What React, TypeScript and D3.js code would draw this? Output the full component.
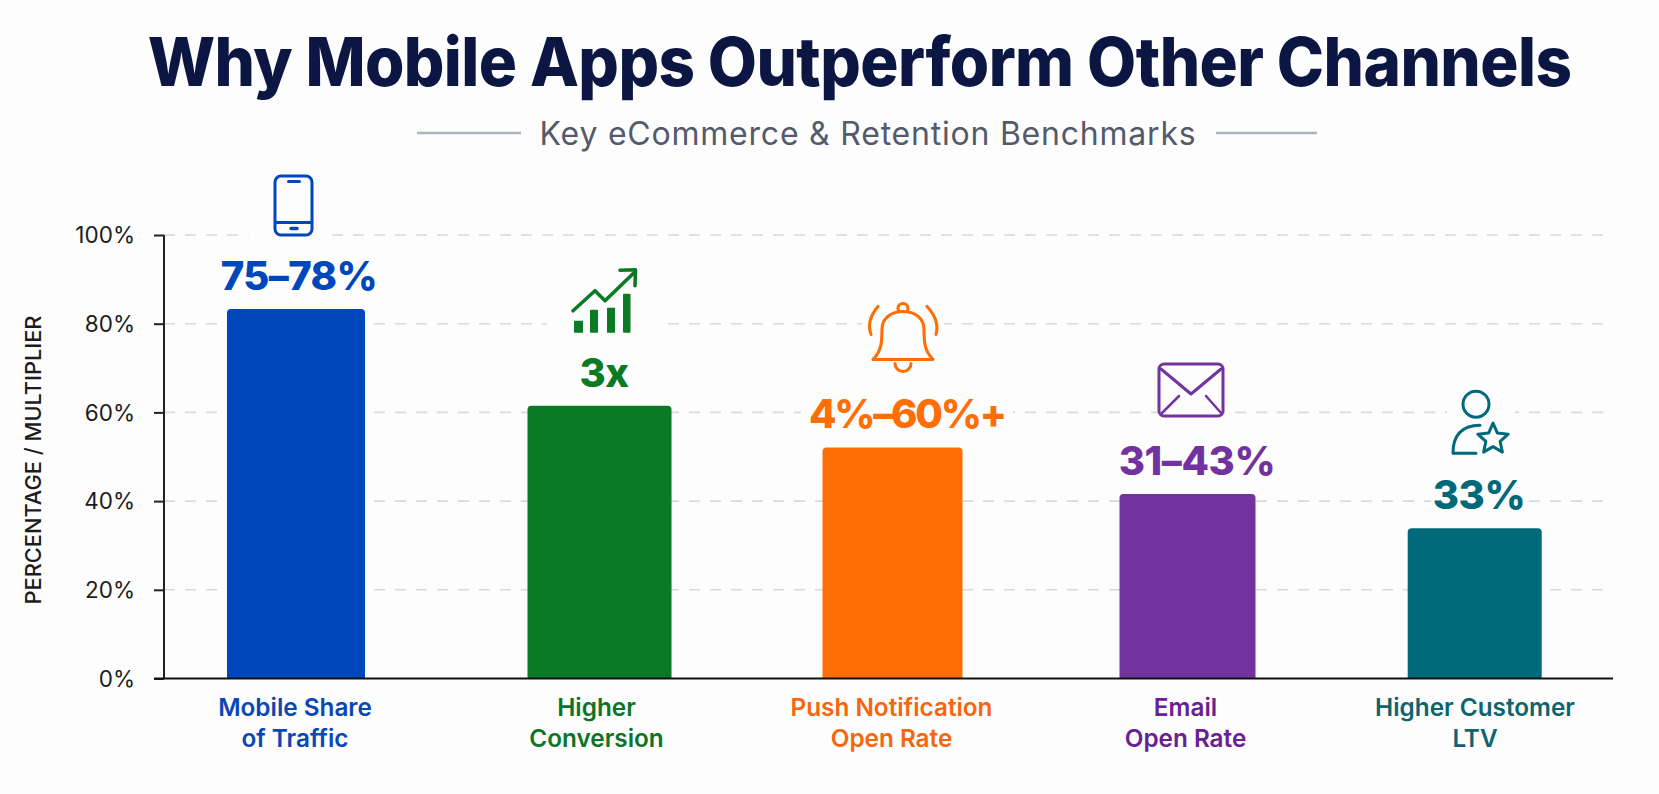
import React, { useEffect, useRef } from "react";
import * as d3 from "d3";

// ---- data ----
const categories = ["traffic", "conversion", "push", "email", "ltv"];
const categoryLines = [
  ["Mobile Share", "of Traffic"],
  ["Higher", "Conversion"],
  ["Push Notification", "Open Rate"],
  ["Email", "Open Rate"],
  ["Higher Customer", "LTV"],
];
const barValues = [83.3, 61.5, 52.1, 41.6, 33.9];
const valueLabels = ["75–78%", "3x", "4%–60%+", "31–43%", "33%"];
const colors = ["#0047bb", "#0a7a24", "#ff6d05", "#7232a0", "#00697a"];
const labelColors = ["#0a47b5", "#0b7425", "#f7650f", "#682093", "#0d6470"];
const yTicks = [0, 20, 40, 60, 80, 100];

// ---- layout ----
const W = 1659, H = 794, BG = "#fdfdfd";
const barCentres = [296, 599.5, 892.5, 1187.5, 1474.7];
const barWidths = [138, 144, 140, 136, 134];
const valueCentres = [299, 604, 907, 1197, 1479];
const valueSpacing = [-0.6, -0.4, -2.2, -0.4, -0.4];
const labelCentres = [295, 596.5, 891.5, 1185.5, 1475];
const iconCentres = [293.5, 604, 903, 1191, 1481];
const iconRise = [84.5, 86, 91, 85, 87];
const iconHalo = [[-45, -32, 82, 66], [-57, -36, 112, 72], [-41, -38, 82, 76], [-33, -28, 66, 56], [-34, -36, 68, 72]];
const valueHalfWidths = [82, 30, 106, 82, 48];

const y = d3.scaleLinear().domain([0, 100]).range([678.5, 235]);
const x = d3.scaleOrdinal<string, number>().domain(categories).range(barCentres);
const bw = d3.scaleOrdinal<string, number>().domain(categories).range(barWidths);

function barPath(cx: number, w: number, top: number, base: number) {
  const r = 4, p = d3.path();
  p.moveTo(cx - w / 2, base);
  p.lineTo(cx - w / 2, top + r);
  p.arcTo(cx - w / 2, top, cx - w / 2 + r, top, r);
  p.lineTo(cx + w / 2 - r, top);
  p.arcTo(cx + w / 2, top, cx + w / 2, top + r, r);
  p.lineTo(cx + w / 2, base);
  p.closePath();
  return p.toString();
}

const starPath = d3.lineRadial<number>()
  .angle((_, i) => (i * Math.PI) / 5)
  .radius((_, i) => (i % 2 ? 7.5 : 16))
  .curve(d3.curveLinearClosed)(d3.range(10)) as string;

function Icon({ i, color }: { i: number; color: string }) {
  const s = { fill: "none", stroke: color, strokeWidth: 3, strokeLinejoin: "round" as const, strokeLinecap: "round" as const };
  if (i === 0)
    return (
      <g {...s}>
        <rect x={-18.5} y={-29.5} width={37} height={59} rx={6} />
        <path d="M-18 17H18" />
        <path d="M-5 -24H6" />
        <path d="M-2.5 23H3.5" strokeWidth={3.5} />
      </g>
    );
  if (i === 1)
    return (
      <g {...s} strokeWidth={3.6}>
        <g fill={color} stroke="none">
          <rect x={-30} y={20} width={9} height={12} />
          <rect x={-14} y={9} width={8} height={23} rx={1} />
          <rect x={3} y={7} width={8} height={25} />
          <rect x={19} y={-7} width={7.5} height={39} rx={1} />
        </g>
        <path d="M-31 10L-9 -10L1 0L30 -28" />
        <path d="M16 -30.5L31.5 -31L31 -15" />
      </g>
    );
  if (i === 2)
    return (
      <g {...s} strokeWidth={3.1}>
        <circle cx={0} cy={-29} r={5} fill={BG} />
        <path d="M-30 22C-22 14 -21 6 -21 -8C-21 -20 -11 -26 0 -26C11 -26 21 -20 21 -8C21 6 22 14 30 22Z" fill={BG} />
        <path d="M-8 26A8 8 0 0 0 8 26" />
        <path d="M-25 -31Q-37 -17 -32 -3" />
        <path d="M24 -31Q37 -17 33 -3" />
      </g>
    );
  if (i === 3)
    return (
      <g {...s}>
        <rect x={-32} y={-26} width={64} height={52} rx={5} />
        <path d="M-30 -21L0 4L30 -21" />
        <path d="M-12 6L-30 24" strokeWidth={2.5} />
        <path d="M15 6L31 24" strokeWidth={2.5} />
      </g>
    );
  return (
    <g {...s}>
      <circle cx={-5} cy={-18} r={13} />
      <path d="M-5 31H-28C-28 14 -20 3 -1 3" />
      <path d={starPath} transform="translate(12,17)" fill={BG} />
    </g>
  );
}

export default function App() {
  const axisRef = useRef<SVGGElement>(null);
  useEffect(() => {
    const g = d3.select(axisRef.current!);
    g.call(
      d3.axisLeft(y).tickValues(yTicks).tickSize(10).tickPadding(19).tickFormat((d) => `${d}%`) as any
    );
    g.select(".domain").attr("stroke", "#222").attr("stroke-width", 2).attr("d", `M0,${y(100)}V${y(0)}`);
    g.selectAll(".tick line").attr("stroke", "#222").attr("stroke-width", 2);
    g.selectAll(".tick text")
      .attr("fill", "#1c1c1c")
      .attr("dy", "0.35em")
      .style("font-family", "Inter")
      .style("font-size", "22.5px")
      .style("font-weight", 400);
  }, []);

  const baseline = (i: number) => y(barValues[i]) - 19;

  return (
    <svg width={W} height={H} viewBox={`0 0 ${W} ${H}`} style={{ position: "absolute", left: 0, top: 0, display: "block" }} fontFamily="Inter">
      <rect width={W} height={H} fill={BG} />
      <text transform="translate(859.5,86) scale(0.937,1)" textAnchor="middle" fontSize={68} fontWeight={800} fill="#0b1742" letterSpacing={-0.6}>
        Why Mobile Apps Outperform Other Channels
      </text>
      <text x={868} y={145} textAnchor="middle" fontSize={32} fontWeight={400} fill="#535a6b" letterSpacing={0.78}>
        Key eCommerce &amp; Retention Benchmarks
      </text>
      <path d="M417 133H521M1216 133H1317" stroke="#aeb3be" strokeWidth={2.5} />

      {yTicks.filter((t) => t > 0).map((t) => (
        <line key={t} x1={164} x2={1613} y1={y(t)} y2={y(t)} stroke="#d9d9d9" strokeWidth={1.6} strokeDasharray="11 10" />
      ))}

      {categories.map((c, i) => {
        const [hx, hy, hw, hh] = iconHalo[i];
        const iy = baseline(i) - iconRise[i];
        return (
          <g key={c}>
            <rect x={iconCentres[i] + hx} y={iy + hy} width={hw} height={hh} fill={BG} />
            <rect x={valueCentres[i] - valueHalfWidths[i]} y={baseline(i) - 32} width={valueHalfWidths[i] * 2} height={36} fill={BG} />
            <path d={barPath(x(c), bw(c), y(barValues[i]), y(0))} fill={colors[i]} />
            <g transform={`translate(${iconCentres[i]},${iy})`}>
              <Icon i={i} color={colors[i]} />
            </g>
            <text x={valueCentres[i]} y={baseline(i)} textAnchor="middle" fontSize={40} fontWeight={800} fill={colors[i]} letterSpacing={valueSpacing[i]}>
              {valueLabels[i]}
            </text>
            {categoryLines[i].map((l, k) => (
              <text key={k} x={labelCentres[i]} y={716 + k * 31} textAnchor="middle" fontSize={24.3} fontWeight={600} fill={labelColors[i]}>
                {l}
              </text>
            ))}
          </g>
        );
      })}

      <g ref={axisRef} transform="translate(164,0)" />
      <line x1={154} x2={1613} y1={y(0)} y2={y(0)} stroke="#111" strokeWidth={2} />

      <text transform="translate(41,460) rotate(-90)" textAnchor="middle" fontSize={21.8} fontWeight={500} fill="#1c1c1c">
        PERCENTAGE / MULTIPLIER
      </text>
    </svg>
  );
}
